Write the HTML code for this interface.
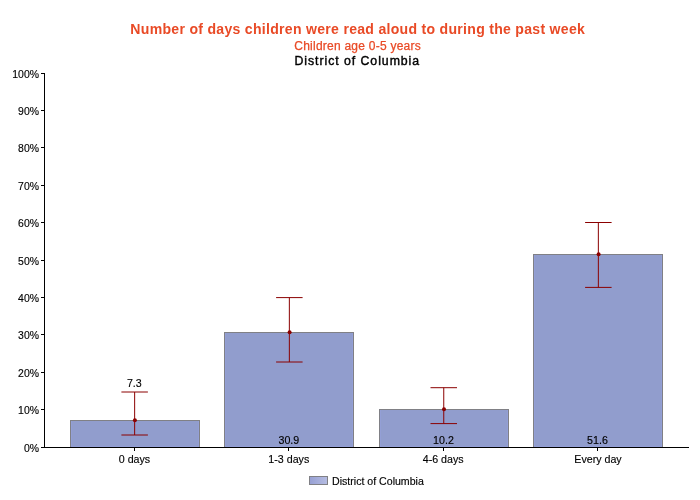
<!DOCTYPE html>
<html><head><meta charset="utf-8">
<style>
html,body{margin:0;padding:0;background:#fff;width:700px;height:500px;overflow:hidden;}
svg{display:block;}
text{font-family:"Liberation Sans",sans-serif;}
</style></head><body>
<svg style="will-change:transform" width="700" height="500" viewBox="0 0 700 500">
<!-- titles -->
<text x="357.8" y="33.6" text-anchor="middle" font-size="15.3" font-weight="bold" letter-spacing="0.31" transform="matrix(0.92,0,0,1,28.6,0)" fill="#e94a26">Number of days children were read aloud to during the past week</text>
<text x="357.6" y="49.5" text-anchor="middle" font-size="12" letter-spacing="0.24" fill="#e94a26" stroke="#e94a26" stroke-width="0.25">Children age 0-5 years</text>
<text x="357.3" y="64.8" text-anchor="middle" font-size="12.3" letter-spacing="0.95" stroke="#000" stroke-width="0.4" fill="#000">District of Columbia</text>

<!-- bars -->
<g shape-rendering="crispEdges">
<rect x="70" y="420" width="130" height="27" fill="#808085"/>
<rect x="71" y="421" width="128" height="26" fill="#939fd6"/>
<rect x="72" y="421" width="126" height="25" fill="#919dcd"/>

<rect x="224" y="332" width="130" height="115" fill="#808085"/>
<rect x="225" y="333" width="128" height="114" fill="#939fd6"/>
<rect x="226" y="333" width="126" height="113" fill="#919dcd"/>

<rect x="379" y="409" width="130" height="38" fill="#808085"/>
<rect x="380" y="410" width="128" height="37" fill="#939fd6"/>
<rect x="381" y="410" width="126" height="36" fill="#919dcd"/>

<rect x="533" y="254" width="130" height="193" fill="#808085"/>
<rect x="534" y="255" width="128" height="192" fill="#939fd6"/>
<rect x="535" y="255" width="126" height="191" fill="#919dcd"/>

<!-- axes -->
<rect x="44" y="73" width="1" height="375" fill="#000"/>
<rect x="41" y="447" width="648" height="1" fill="#000"/>
<rect x="41" y="73" width="3" height="1" fill="#000"/>
<rect x="41" y="110" width="3" height="1" fill="#000"/>
<rect x="41" y="147" width="3" height="1" fill="#000"/>
<rect x="41" y="185" width="3" height="1" fill="#000"/>
<rect x="41" y="222" width="3" height="1" fill="#000"/>
<rect x="41" y="260" width="3" height="1" fill="#000"/>
<rect x="41" y="297" width="3" height="1" fill="#000"/>
<rect x="41" y="334" width="3" height="1" fill="#000"/>
<rect x="41" y="372" width="3" height="1" fill="#000"/>
<rect x="41" y="409" width="3" height="1" fill="#000"/>
<rect x="134" y="448" width="1" height="3" fill="#000"/>
<rect x="288" y="448" width="1" height="3" fill="#000"/>
<rect x="443" y="448" width="1" height="3" fill="#000"/>
<rect x="597" y="448" width="1" height="3" fill="#000"/>
</g>

<!-- error bars -->
<g stroke="#8b0000" stroke-width="1" fill="none">
<path d="M121.40 392.00H147.90M134.65 392.00V435.00M121.40 435.00H147.90"/>
<path d="M276.10 297.60H302.60M289.35 297.60V362.00M276.10 362.00H302.60"/>
<path d="M430.50 387.70H457.00M443.75 387.70V423.60M430.50 423.60H457.00"/>
<path d="M585.10 222.50H611.60M598.35 222.50V287.40M585.10 287.40H611.60"/>
</g>
<g fill="#8b0000">
<circle cx="134.90" cy="420.30" r="2"/>
<circle cx="289.60" cy="332.30" r="2"/>
<circle cx="444.00" cy="409.30" r="2"/>
<circle cx="598.60" cy="254.30" r="2"/>
</g>

<!-- y labels -->
<g font-size="11" text-anchor="end" fill="#000" stroke="#000" stroke-width="0.15">
<text x="39" y="77.65" transform="matrix(0.95,0,0,1,1.95,0)">100%</text>
<text x="39" y="114.65" transform="matrix(0.95,0,0,1,1.95,0)">90%</text>
<text x="39" y="151.65" transform="matrix(0.95,0,0,1,1.95,0)">80%</text>
<text x="39" y="189.65" transform="matrix(0.95,0,0,1,1.95,0)">70%</text>
<text x="39" y="226.65" transform="matrix(0.95,0,0,1,1.95,0)">60%</text>
<text x="39" y="264.65" transform="matrix(0.95,0,0,1,1.95,0)">50%</text>
<text x="39" y="301.65" transform="matrix(0.95,0,0,1,1.95,0)">40%</text>
<text x="39" y="338.65" transform="matrix(0.95,0,0,1,1.95,0)">30%</text>
<text x="39" y="376.65" transform="matrix(0.95,0,0,1,1.95,0)">20%</text>
<text x="39" y="413.65" transform="matrix(0.95,0,0,1,1.95,0)">10%</text>
<text x="39" y="451.65" transform="matrix(0.95,0,0,1,1.95,0)">0%</text>
</g>

<!-- x labels -->
<g font-size="11" text-anchor="middle" fill="#000" stroke="#000" stroke-width="0.15">
<text x="134.5" y="463" transform="matrix(0.97,0,0,1,4.035,0)">0 days</text>
<text x="288.8" y="463" transform="matrix(0.97,0,0,1,8.664,0)">1-3 days</text>
<text x="443.2" y="463" transform="matrix(0.97,0,0,1,13.296,0)">4-6 days</text>
<text x="598" y="463" transform="matrix(0.97,0,0,1,17.94,0)">Every day</text>
</g>

<!-- value labels -->
<g font-size="11" text-anchor="middle" fill="#000" stroke="#000" stroke-width="0.15">
<text x="134.3" y="387" transform="matrix(0.97,0,0,1,4.029,0)">7.3</text>
<text x="288.9" y="444" transform="matrix(0.97,0,0,1,8.667,0)">30.9</text>
<text x="443.5" y="444" transform="matrix(0.97,0,0,1,13.305,0)">10.2</text>
<text x="597.5" y="444" transform="matrix(0.97,0,0,1,17.925,0)">51.6</text>
</g>

<!-- legend -->
<defs>
<linearGradient id="lg" x1="0" x2="1" y1="0" y2="0">
<stop offset="0" stop-color="#97a0d4"/>
<stop offset="1" stop-color="#b6bde2"/>
</linearGradient>
</defs>
<rect x="309.5" y="476.5" width="18" height="8" fill="url(#lg)" stroke="#808085" stroke-width="1"/>
<text x="332" y="484.5" font-size="10.6" fill="#000" stroke="#000" stroke-width="0.15">District of Columbia</text>
</svg>
</body></html>
